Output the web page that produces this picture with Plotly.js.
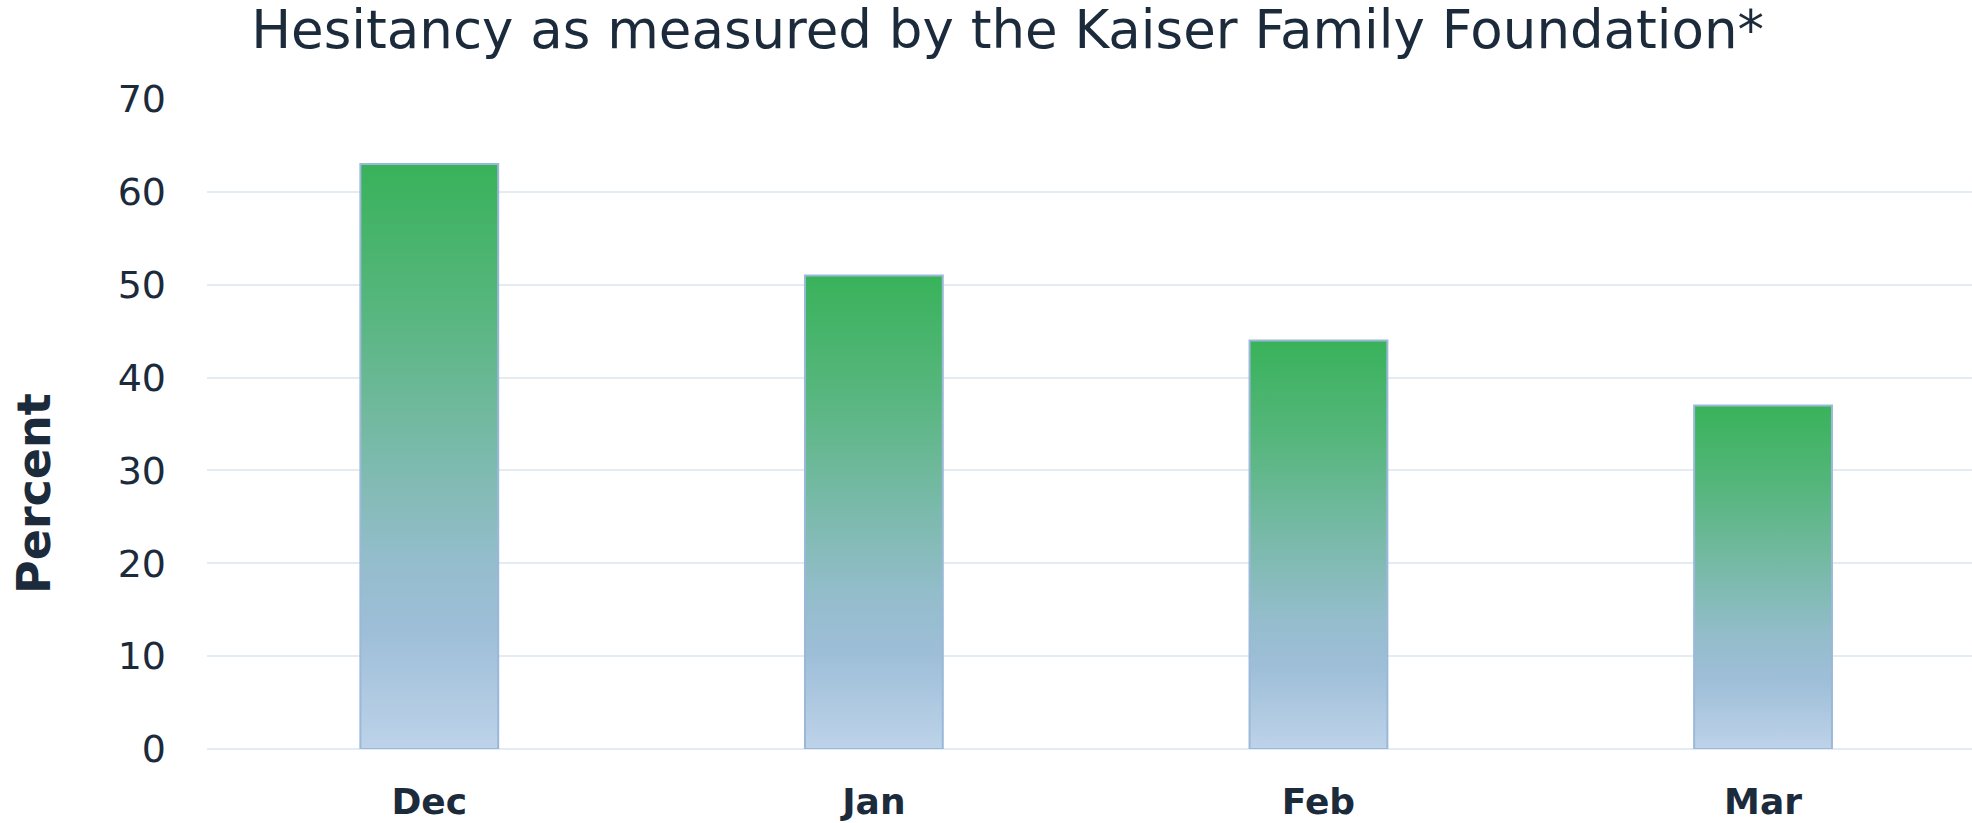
<!DOCTYPE html>
<html>
<head>
<meta charset="utf-8">
<script src="https://cdn.plot.ly/plotly-3.0.1.min.js"></script>
<style>
  html, body { margin: 0; padding: 0; background: #ffffff; }
  #chart { width: 1972px; height: 823px; }
</style>
</head>
<body>
<div id="chart"></div>
<script>
const categories = ['Dec', 'Jan', 'Feb', 'Mar'];
const hesitancy = [63, 51, 44, 37];
const yTicks = [0, 10, 20, 30, 40, 50, 60, 70];
const chartTitle = 'Hesitancy as measured by the Kaiser Family Foundation*';
const yTitle = 'Percent';

const textColor = '#1b2b3b';
const fontFamily = '"DejaVu Sans", "Open Sans", sans-serif';

const trace = {
  type: 'bar',
  x: categories,
  y: hesitancy,
  marker: {
    color: '#7cbab0',
    line: { color: '#9ab9d8', width: 2 }
  },
  hoverinfo: 'x+y'
};

const layout = {
  width: 1972,
  height: 823,
  margin: { l: 207, r: 0, t: 99, b: 74 },
  paper_bgcolor: '#ffffff',
  plot_bgcolor: '#ffffff',
  bargap: 0.69,
  showlegend: false,
  font: { family: fontFamily, color: textColor },
  title: {
    text: chartTitle,
    font: { family: fontFamily, size: 53, color: textColor },
    x: 0.511,
    xanchor: 'center',
    xref: 'container',
    y: 0.964,
    yanchor: 'middle',
    yref: 'container'
  },
  xaxis: {
    type: 'category',
    range: [-0.5, 3.47],
    showgrid: false,
    showline: false,
    zeroline: false,
    ticks: '',
    tickfont: { family: fontFamily, size: 36, color: textColor, weight: 700 },
    ticklabelstandoff: 28,
    fixedrange: true
  },
  yaxis: {
    range: [0, 70],
    tickvals: yTicks,
    ticktext: yTicks.map(String),
    showgrid: true,
    gridcolor: '#e3ecf3',
    gridwidth: 2,
    zeroline: true,
    zerolinecolor: '#e3ecf3',
    zerolinewidth: 2,
    showline: false,
    ticks: '',
    tickfont: { family: fontFamily, size: 38, color: textColor },
    ticklabelstandoff: 40,
    fixedrange: true
  },
  annotations: [{
    text: yTitle,
    textangle: -90,
    xref: 'paper',
    yref: 'paper',
    x: -0.098,
    xanchor: 'center',
    y: (749 - 494) / 650,
    yanchor: 'middle',
    showarrow: false,
    font: { family: fontFamily, size: 46, color: textColor, weight: 700 }
  }]
};

Plotly.newPlot('chart', [trace], layout, { displayModeBar: false, staticPlot: true }).then(function (gd) {
  const svg = gd.querySelector('svg.main-svg');
  const ns = 'http://www.w3.org/2000/svg';
  let defs = svg.querySelector('defs');
  if (!defs) { defs = document.createElementNS(ns, 'defs'); svg.insertBefore(defs, svg.firstChild); }
  const grad = document.createElementNS(ns, 'linearGradient');
  grad.setAttribute('id', 'barGradient');
  grad.setAttribute('x1', '0'); grad.setAttribute('y1', '0');
  grad.setAttribute('x2', '0'); grad.setAttribute('y2', '1');
  const stops = [
    [0, '#39b25a'],
    [0.25, '#57b67e'],
    [0.5, '#7bbaac'],
    [0.68, '#94bdcc'],
    [0.8, '#9ebed8'],
    [1, '#bdd3e9']
  ];
  stops.forEach(function (s) {
    const st = document.createElementNS(ns, 'stop');
    st.setAttribute('offset', s[0]);
    st.setAttribute('stop-color', s[1]);
    grad.appendChild(st);
  });
  defs.appendChild(grad);
  gd.querySelectorAll('.bars .point path').forEach(function (p) {
    p.style.fill = 'url(#barGradient)';
    p.style.fillOpacity = '1';
  });
});
</script>
</body>
</html>
